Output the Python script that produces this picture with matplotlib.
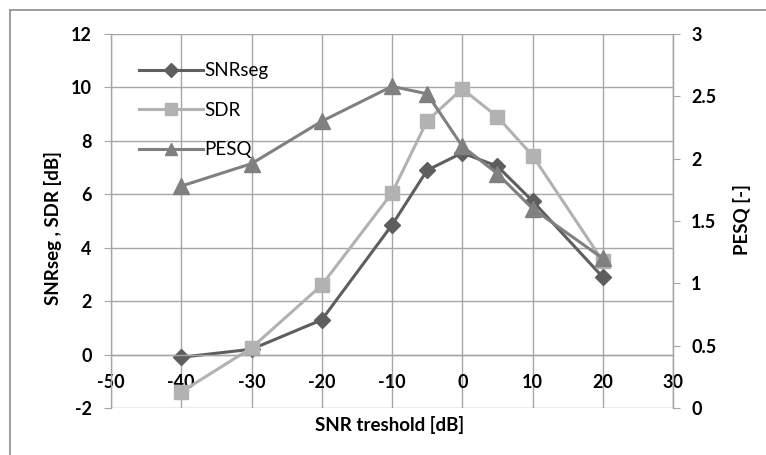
import matplotlib.pyplot as plt
from matplotlib.lines import Line2D

plt.rcParams['font.family'] = ['Lato', 'DejaVu Sans']
plt.rcParams['axes.unicode_minus'] = False

# data
thr = [-40, -30, -20, -10, -5, 0, 5, 10, 20]
snrseg = [-0.1, 0.2, 1.3, 4.85, 6.9, 7.55, 7.05, 5.75, 2.9]
sdr = [-1.4, 0.25, 2.6, 6.05, 8.75, 9.95, 8.9, 7.45, 3.5]
pesq = [1.78, 1.96, 2.30, 2.58, 2.52, 2.10, 1.88, 1.60, 1.20]

xticks = [-50, -40, -30, -20, -10, 0, 10, 20, 30]
yticks = [-2, 0, 2, 4, 6, 8, 10, 12]
y2ticks = [0, 0.5, 1, 1.5, 2, 2.5, 3]

c_snr = '#5e5e5e'
c_sdr = '#b2b2b2'
c_pesq = '#808080'
grid_c = '#a6a6a6'

fig = plt.figure(figsize=(7.66, 4.55), dpi=100)
ax = fig.add_axes([111 / 766, 47 / 455, 562 / 766, 374 / 455])

l1, = ax.plot(thr, snrseg, color=c_snr, lw=2.2, marker='D', ms=8.5, label='SNRseg')
l2, = ax.plot(thr, sdr, color=c_sdr, lw=2.2, marker='s', ms=10, label='SDR')

ax.set_xlim(-50, 30)
ax.set_ylim(-2, 12)
ax.set_xticks(xticks)
ax.set_yticks(yticks)
ax.grid(True, color=grid_c, lw=1)
ax.set_axisbelow(True)

ax.spines['top'].set_visible(False)
ax.spines['bottom'].set_position(('data', 0))
for s in ['left', 'right', 'bottom']:
    ax.spines[s].set_color(grid_c)
    ax.spines[s].set_linewidth(1)

ax.tick_params(axis='x', length=0, pad=14, labelsize=13)
ax.tick_params(axis='y', length=5, pad=9, color=grid_c, labelsize=13)
for t in ax.get_xticklabels() + ax.get_yticklabels():
    t.set_fontweight('bold')

ax2 = ax.twinx()
l3, = ax2.plot(thr, pesq, color=c_pesq, lw=2.2, marker='^', ms=11, label='PESQ')
ax2.set_ylim(0, 3)
ax2.set_yticks(y2ticks)
ax2.set_yticklabels(['0', '0.5', '1', '1.5', '2', '2.5', '3'])
ax2.tick_params(axis='y', length=5, pad=8, color=grid_c, labelsize=13)
for t in ax2.get_yticklabels():
    t.set_fontweight('bold')
for s in ['top', 'bottom', 'left']:
    ax2.spines[s].set_visible(False)
ax2.spines['right'].set_color(grid_c)

leg = ax.legend(handles=[l1, l2, l3], loc='upper left', bbox_to_anchor=(0.02, 0.97),
                frameon=False, handlelength=3.4, handletextpad=0.1, markerscale=0.8,
                labelspacing=1.2, prop={'size': 13.5})

fig.text(390 / 766, 1 - 425 / 455, 'SNR treshold [dB]', ha='center', va='center',
         fontsize=13.5, fontweight='bold')
fig.text(53 / 766, 1 - 228 / 455, 'SNRseg , SDR [dB]', ha='center', va='center',
         rotation=90, fontsize=13.5, fontweight='bold')
fig.text(742 / 766, 1 - 220 / 455, 'PESQ [-]', ha='center', va='center',
         rotation=90, fontsize=13.5, fontweight='bold')

# outer chart border (cut off at right and bottom)
fig.add_artist(Line2D([10 / 766, 1], [1 - 10 / 455] * 2, color='#8c8c8c', lw=1.2,
                      transform=fig.transFigure))
fig.add_artist(Line2D([10 / 766] * 2, [0, 1 - 10 / 455], color='#8c8c8c', lw=1.2,
                      transform=fig.transFigure))

fig.savefig('out.png', dpi=100)
